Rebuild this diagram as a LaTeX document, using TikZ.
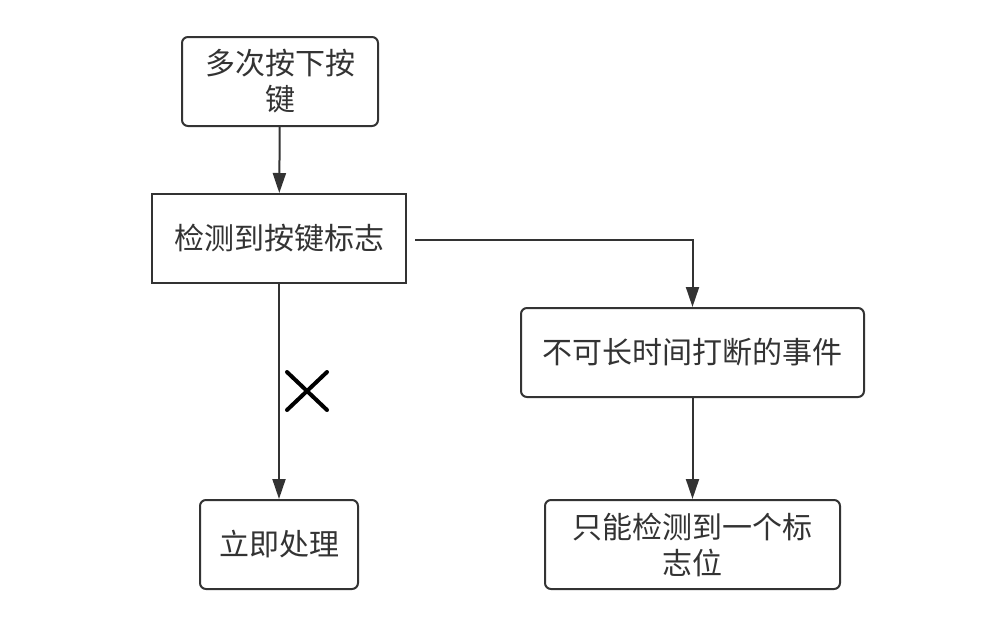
\documentclass[tikz,border=0pt]{standalone}
\usepackage{fontspec}
\setmainfont{Noto Sans CJK SC}
\usepackage{xcolor}
\usepackage{tikz}
\usetikzlibrary{positioning,arrows.meta,calc}

\definecolor{linegray}{HTML}{333333}

\tikzset{
  box/.style={draw=linegray,line width=2pt,rounded corners=6pt,minimum height=89pt,
    align=center,font=\fontsize{30}{36}\selectfont,text=linegray,inner sep=0pt},
  flatbox/.style={box,rounded corners=0pt},
  arrow/.style={draw=linegray,line width=2pt,-{Triangle[width=13pt,length=20pt]}}
}

\begin{document}
\begin{tikzpicture}[x=1pt,y=-1pt]
	\useasboundingbox (0,0) rectangle (994,625);
	
	\node[box,minimum width=196pt] (press) at (280,81.5) {多次按下按\\键};
	\node[flatbox,minimum width=254pt] (detect) at (279,238.5) {检测到按键标志};
	\node[box,minimum width=343pt] (event) at (692.5,352.5) {不可长时间打断的事件};
	\node[box,minimum width=158pt] (handle) at (279,544.5) {立即处理};
	\node[box,minimum width=295pt] (flag) at (692.5,544.5) {只能检测到一个标\\志位};
	
	\draw[arrow] (press) -- (detect);
	\draw[arrow] (detect) -- (handle);
	\draw[arrow] ([xshift=8pt,yshift=-1.5pt]detect.east) -| (event.north);
	\draw[arrow] (event) -- (flag);
	
	% cross on the left branch
	\coordinate (cross) at (307,391);
	\draw[line width=4pt,line cap=round] ($(cross)+(-20,-19)$) -- ($(cross)+(20,19)$);
	\draw[line width=4pt,line cap=round] ($(cross)+(-20,19)$) -- ($(cross)+(20,-19)$);
	
\end{tikzpicture}
\end{document}
